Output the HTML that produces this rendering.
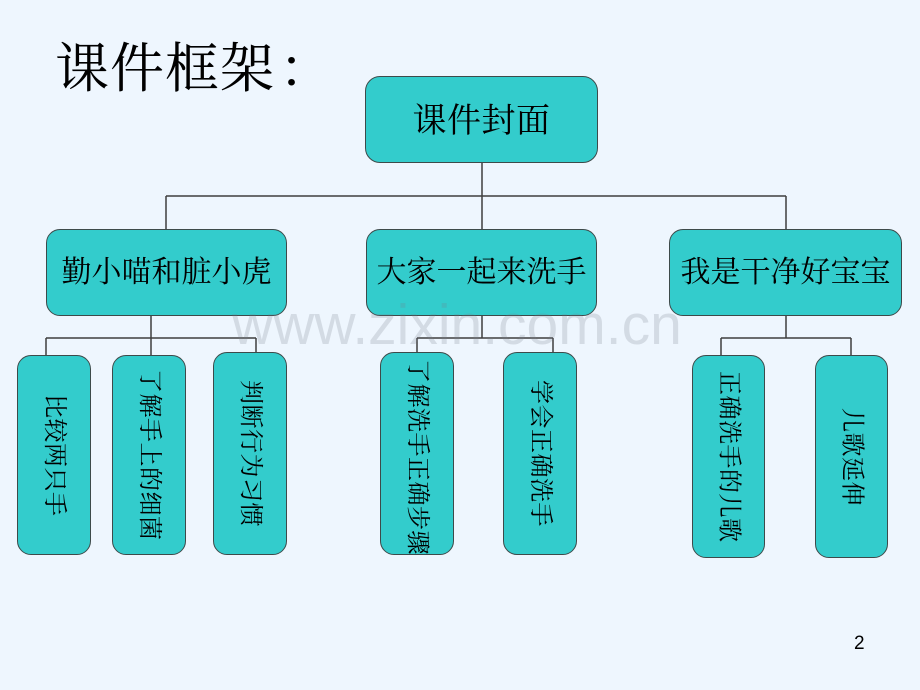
<!DOCTYPE html>
<html>
<head>
<meta charset="utf-8">
<style>
html,body{margin:0;padding:0;}
body{width:920px;height:690px;position:relative;overflow:hidden;background:#eef6fe;font-family:"Liberation Serif","Noto Serif CJK SC","Noto Sans CJK SC",serif;}
.box{position:absolute;box-sizing:border-box;background:#33cccc;border:1.5px solid #3d4a4a;border-radius:14px;display:flex;align-items:center;justify-content:center;color:#000;overflow:hidden;}
.h{font-size:30px;line-height:1;white-space:nowrap;}
.v{font-size:24px;line-height:1;writing-mode:vertical-rl;text-orientation:sideways;white-space:nowrap;letter-spacing:0.5px;}
#title{position:absolute;left:55px;top:42px;font-size:54px;line-height:1;white-space:nowrap;color:#000;letter-spacing:1px;}
#colon{position:absolute;left:279px;top:42px;font-size:54px;line-height:1;white-space:nowrap;color:#000;}
#wm{position:absolute;left:232px;top:297px;font-family:"Liberation Sans",sans-serif;font-size:57px;line-height:1;color:rgba(120,122,135,0.22);white-space:nowrap;z-index:5;}
#pn{position:absolute;left:854px;top:634px;font-family:"Liberation Sans",sans-serif;font-size:19px;line-height:1;color:#000;}
svg{position:absolute;left:0;top:0;}
</style>
</head>
<body>
<svg width="920" height="690">
<g stroke="#3f3f3f" stroke-width="1.5" fill="none">
<line x1="482" y1="163" x2="482" y2="229"/>
<line x1="166" y1="196" x2="786" y2="196"/>
<line x1="166" y1="196" x2="166" y2="229"/>
<line x1="786" y1="196" x2="786" y2="229"/>
<line x1="151" y1="316" x2="151" y2="355"/>
<line x1="46" y1="338" x2="256" y2="338"/>
<line x1="46" y1="338" x2="46" y2="355"/>
<line x1="256" y1="338" x2="256" y2="352"/>
<line x1="482" y1="316" x2="482" y2="338"/>
<line x1="417" y1="338" x2="553" y2="338"/>
<line x1="417" y1="338" x2="417" y2="352"/>
<line x1="553" y1="338" x2="553" y2="352"/>
<line x1="786" y1="316" x2="786" y2="338"/>
<line x1="721" y1="338" x2="851" y2="338"/>
<line x1="721" y1="338" x2="721" y2="355"/>
<line x1="851" y1="338" x2="851" y2="355"/>
</g>
</svg>

<div id="title">课件框架</div>
<div id="colon">：</div>

<div class="box" style="left:365px;top:76px;width:233px;height:87px;border-radius:15px;"><span class="h" style="font-size:34px;margin-top:5px;letter-spacing:0.5px;">课件封面</span></div>

<div class="box" style="left:46px;top:229px;width:241px;height:87px;"><span class="h">勤小喵和脏小虎</span></div>
<div class="box" style="left:366px;top:229px;width:231px;height:87px;"><span class="h">大家一起来洗手</span></div>
<div class="box" style="left:669px;top:229px;width:233px;height:87px;"><span class="h">我是干净好宝宝</span></div>

<div class="box" style="left:17px;top:355px;width:74px;height:200px;"><span class="v">比较两只手</span></div>
<div class="box" style="left:112px;top:355px;width:74px;height:200px;"><span class="v">了解手上的细菌</span></div>
<div class="box" style="left:213px;top:352px;width:74px;height:203px;"><span class="v">判断行为习惯</span></div>
<div class="box" style="left:380px;top:352px;width:74px;height:203px;"><span class="v" style="margin-top:6px;">了解洗手正确步骤</span></div>
<div class="box" style="left:503px;top:352px;width:74px;height:203px;"><span class="v">学会正确洗手</span></div>
<div class="box" style="left:692px;top:355px;width:73px;height:203px;"><span class="v">正确洗手的儿歌</span></div>
<div class="box" style="left:815px;top:355px;width:73px;height:203px;"><span class="v">儿歌延伸</span></div>

<div id="wm">www.zixin.com.cn</div>
<div id="pn">2</div>
</body>
</html>
